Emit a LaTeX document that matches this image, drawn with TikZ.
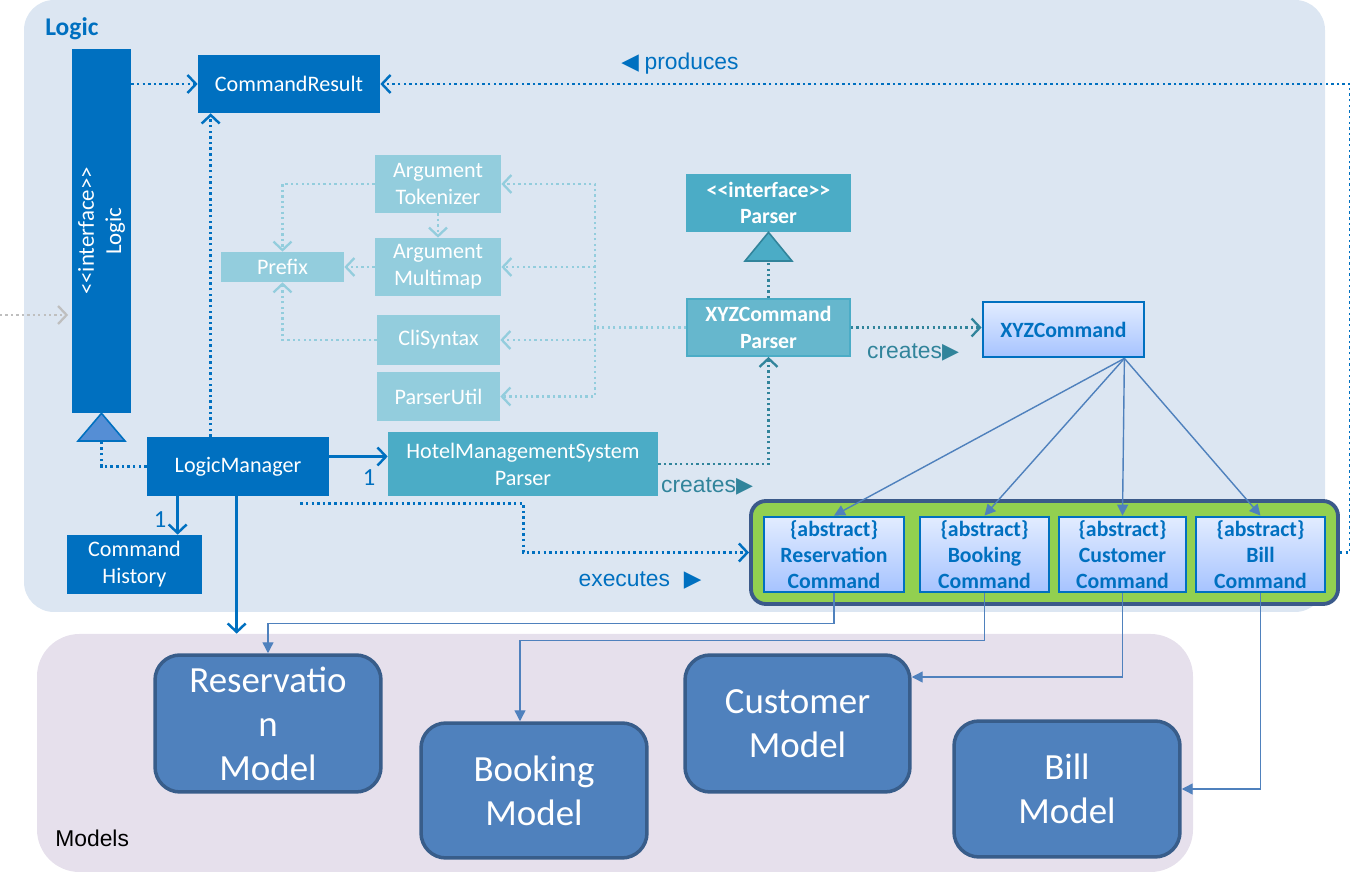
\documentclass[tikz,border=0pt]{standalone}
\usepackage{fontspec}
\setmainfont{Carlito}
\newfontfamily\arialfont{Liberation Sans}
\newfontfamily\symfont{DejaVu Sans}
\usetikzlibrary{arrows.meta,fit}

\definecolor{logicbg}{HTML}{DCE6F2}
\definecolor{modelbg}{HTML}{E6E0EC}
\definecolor{logicblue}{HTML}{0070C0}
\definecolor{parserteal}{HTML}{4BACC6}
\definecolor{createteal}{HTML}{31849B}
\definecolor{utilteal}{HTML}{93CDDD}
\definecolor{xyzteal}{HTML}{66B7CD}
\definecolor{modelfill}{HTML}{4F81BD}
\definecolor{modelline}{HTML}{385D8A}
\definecolor{cmdgreen}{HTML}{92D050}
\definecolor{cmdgreenline}{HTML}{3B5A8A}
\definecolor{cmdtop}{HTML}{E2ECFF}
\definecolor{cmdbottom}{HTML}{A6C3FF}
\definecolor{trifill}{HTML}{558ED5}
\definecolor{extgray}{HTML}{BFBFBF}

\tikzset{
  box/.style={inner sep=0pt, align=center, text=white, font=\fontsize{12.6}{15.3}\selectfont},
  darkbox/.style={box, fill=logicblue},
  tealbox/.style={box, fill=parserteal},
  utilbox/.style={box, fill=utilteal},
  cmdbox/.style={box, draw=logicblue, line width=1.6pt, top color=cmdtop, bottom color=cmdbottom,
    text=logicblue, minimum height=1.5cm, font=\bfseries\fontsize{12.4}{15}\selectfont},
  modelbox/.style={inner sep=0pt, align=center, rounded corners=0.5cm, fill=modelfill, draw=modelline,
    line width=2pt, text=white, font=\fontsize{21}{25}\selectfont},
  barb/.style={-{Straight Barb[length=1.7mm,width=3.6mm]}},
  dep/.style={draw=logicblue, line width=1.4pt, dash pattern=on 1.4pt off 1.8pt, barb},
  tdep/.style={draw=createteal, line width=1.3pt, dash pattern=on 1.3pt off 1.8pt, barb},
  ldep/.style={draw=utilteal, line width=1.3pt, dash pattern=on 1.3pt off 1.8pt, barb},
  gdep/.style={draw=extgray, line width=1.3pt, dash pattern=on 1.3pt off 1.8pt, barb},
  assoc/.style={draw=logicblue, line width=1.4pt, barb},
  inh/.style={draw=modelfill, line width=0.8pt, -{Triangle[length=2.2mm,width=2.2mm]}},
  lbl/.style={inner sep=0pt, font=\arialfont\fontsize{13}{15}\selectfont},
  mult/.style={inner sep=0pt, text=logicblue, font=\fontsize{14}{16}\selectfont}
}

\begin{document}
\begin{tikzpicture}[x=0.02cm, y=-0.02cm]
\useasboundingbox (0,0) rectangle (1350,874);

% panels
\node[fill=logicbg, rounded corners=0.6cm, inner sep=0pt, fit={(24,0) (1325,612)}] (logicArea) {};
\node[fill=modelbg, rounded corners=0.85cm, inner sep=0pt, fit={(37,634) (1193,872)}] (modelsArea) {};
\node[anchor=west, inner sep=0pt, text=logicblue, font=\bfseries\fontsize{14.5}{16}\selectfont] (logicTitle) at (45,29) {Logic};
\node[lbl, anchor=west] (modelsTitle) at (55,838) {Models};

% logic classes
\node[darkbox, minimum width=1.18cm, minimum height=7.28cm,
  label={[rotate=90, text=white, align=center, font=\fontsize{13}{15.5}\selectfont]center:{<{}<interface>{}>\\Logic}}] (logic) at (101.5,231) {};
\node[darkbox, minimum width=3.64cm, minimum height=1.16cm] (cmdResult) at (289,84) {CommandResult};
\node[darkbox, minimum width=3.64cm, minimum height=1.18cm] (lm) at (238,466.5) {LogicManager};
\node[darkbox, minimum width=2.7cm, minimum height=1.18cm] (hist) at (134.5,564.5) {Command\\History};
\node[tealbox, minimum width=5.4cm, minimum height=1.28cm] (hms) at (523,464) {HotelManagementSystem\\Parser};

% parser utilities
\node[utilbox, minimum width=2.52cm, minimum height=1.16cm] (tok) at (438,184) {Argument\\Tokenizer};
\node[utilbox, minimum width=2.52cm, minimum height=1.16cm] (mmap) at (438,267) {Argument\\Multimap};
\node[utilbox, minimum width=2.46cm, minimum height=0.6cm] (prefix) at (282.5,267) {Prefix};
\node[utilbox, minimum width=2.46cm, minimum height=1cm] (cli) at (438.5,340) {CliSyntax};
\node[utilbox, minimum width=2.46cm, minimum height=0.98cm] (putil) at (438.5,396.5) {ParserUtil};

% parsers and commands
\node[tealbox, font=\bfseries\fontsize{12.4}{15}\selectfont, minimum width=3.3cm, minimum height=1.16cm]
  (parserI) at (768.5,203) {<{}<interface>{}>\\Parser};
\node[box, fill=xyzteal, draw=parserteal, line width=1pt, font=\bfseries\fontsize{12.4}{15}\selectfont,
  minimum width=3.26cm, minimum height=1.14cm] (xyzParser) at (768.5,327.5) {XYZCommand\\Parser};
\node[cmdbox, minimum width=3.22cm, minimum height=1.1cm] (xyz) at (1063.5,329.5) {XYZCommand};
\node[fill=cmdgreen, draw=cmdgreenline, line width=2.2pt, rounded corners=0.3cm, inner sep=0pt,
  fit={(751,501) (1338,604)}] (grp) {};
\node[cmdbox, minimum width=2.8cm] (resC) at (834,554.5) {\{abstract\}\\Reservation\\Command};
\node[cmdbox, minimum width=2.58cm] (bookC) at (984.5,554.5) {\{abstract\}\\Booking\\Command};
\node[cmdbox, minimum width=2.54cm] (custC) at (1122.5,554.5) {\{abstract\}\\Customer\\Command};
\node[cmdbox, minimum width=2.58cm] (billC) at (1260.5,554.5) {\{abstract\}\\Bill\\Command};

% models
\node[modelbox, minimum width=4.52cm, minimum height=2.74cm] (resM) at (268,723.5) {Reservatio\\n\\Model};
\node[modelbox, minimum width=4.52cm, minimum height=2.7cm] (bookM) at (534,790.5) {Booking\\Model};
\node[modelbox, minimum width=4.5cm, minimum height=2.74cm] (custM) at (797.5,723.5) {Customer\\Model};
\node[modelbox, minimum width=4.52cm, minimum height=2.72cm] (billM) at (1067,789) {Bill\\Model};

% realization triangles
\coordinate (logicTri) at (101.5,441);
\draw[fill=trifill, draw=logicblue, line width=0.9pt] (logic.south) -- (78,441) -- (125,441) -- cycle;
\coordinate (parserTri) at (768.5,261);
\draw[fill=parserteal, draw=createteal, line width=0.9pt] (parserI.south) -- (745,261) -- (792,261) -- cycle;

% logic connectors
\coordinate (extIn) at (0,315);
\draw[gdep] (extIn) -- ([xshift=-2pt]extIn -| logic.west);
\draw[dep] (logic.east |- cmdResult.west) -- (cmdResult.west);
\draw[dep] (lm.north west) ++(64,0) coordinate (lmUp) -- (lmUp |- cmdResult.south);
\draw[logicblue, line width=1.4pt, dash pattern=on 1.4pt off 1.8pt] (lm.west) -| (logicTri);
\draw[assoc] (lm.east) ++(0,-10) coordinate (lmR) -- (lmR -| hms.west);
\node[mult] (mHms) at (369,478) {1};
\draw[assoc] (lm.south west) ++(31,0) coordinate (lmH) -- (lmH |- hist.north);
\node[mult] (mHist) at (160,520) {1};
\draw[assoc] (lm.south west) ++(90,0) coordinate (lmM) -- (lmM |- modelsArea.north);
\draw[dep] (lm.south east) ++(-29,7) -- ++(223,0) |- (grp.west);
\node[lbl, text=logicblue] (exLbl) at (640,581) {executes\hspace{0.6em}{\symfont\fontsize{13}{13}\selectfont ▶}};
\draw[dep] (grp.east) -- ++(10,0) |- (cmdResult.east);
\node[lbl, text=logicblue] (prodLbl) at (680,64) {{\symfont\fontsize{13}{13}\selectfont ◀}\hspace{0.25em}produces};

% parser connectors
\draw[tdep] (hms.east) -| (xyzParser.south);
\node[lbl, text=createteal] (crLbl1) at (707,486) {creates{\symfont\fontsize{12.5}{12.5}\selectfont ▶}};
\draw[tdep] (xyzParser.east) -- (xyzParser.east -| xyz.west);
\node[lbl, text=createteal] (crLbl2) at (913,352) {creates{\symfont\fontsize{12.5}{12.5}\selectfont ▶}};
\draw[createteal, line width=1.3pt, dash pattern=on 1.3pt off 1.8pt] (xyzParser.north) -- (parserTri);

% utility connectors
\coordinate (hub) at (595,327.5);
\draw[utilteal, line width=1.3pt, dash pattern=on 1.3pt off 1.8pt] (xyzParser.west) -- (hub);
\foreach \u in {tok,mmap,cli,putil}
  \draw[ldep] (hub) |- (\u.east);
\draw[ldep] (tok.west) -| (prefix.north);
\draw[ldep] (tok.south) -- (mmap.north);
\draw[ldep] (mmap.west) -- (mmap.west -| prefix.east);
\draw[ldep] (cli.west) -| (prefix.south);

% command connectors
\coordinate (xyzFoot) at ([xshift=-0.42cm]xyz.south east);
\foreach \c in {resC,bookC,custC,billC}
  \draw[inh] (xyzFoot) -- (\c.north);
\draw[inh] (resC.south) -- ++(0,30) -| (resM.north);
\draw[inh] (bookC.south) -- ++(0,47) -| ([xshift=-0.28cm]bookM.north);
\draw[inh] (custC.south) |- ([yshift=0.93cm]custM.east);
\draw[inh] (billC.south) |- (billM.east);
\end{tikzpicture}
\end{document}
